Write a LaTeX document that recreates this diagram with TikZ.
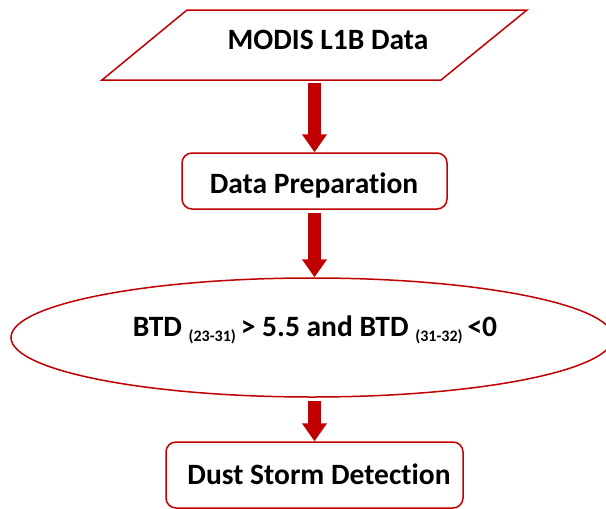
\documentclass[tikz,border=0pt]{standalone}
\usepackage{fontspec}
\setmainfont{Carlito}[Ligatures=NoCommon]
\usetikzlibrary{shapes.geometric,arrows.meta}
\definecolor{boxred}{HTML}{C00000}
\definecolor{arrowred}{HTML}{C00000}
\newcommand{\subtxt}[1]{{\fontsize{16}{18}\selectfont\raisebox{-5pt}{#1}}}
\begin{document}
\begin{tikzpicture}[x=1pt,y=-1pt,
  shapeline/.style={draw=boxred, line width=1.5pt},
  roundbox/.style={shapeline, rounded corners=10pt, inner sep=0pt},
  lbl/.style={font=\bfseries\fontsize{29.5}{34}\selectfont, inner sep=0pt, text=black},
  fatarrow/.style={draw=arrowred, line width=13.5pt, -{Triangle[length=18pt,width=24pt]}, shorten <=3pt}]
\useasboundingbox (0,0) rectangle (606,509);
% input parallelogram
\node[minimum width=254pt, minimum height=70pt, inner sep=0pt] (modis) at (314.5,45) {};
\draw[shapeline] (187,10) -- (527,10) -- (441,80) -- (102,80) -- cycle;
\node[lbl, anchor=base] (modist) at (328,49) {MODIS L1B Data};
% data preparation
\node[roundbox, minimum width=265pt, minimum height=56pt] (prep) at (314.5,181) {};
\node[lbl, anchor=base] (prept) at (314,193) {Data Preparation};
% condition ellipse
\node[shapeline, ellipse, minimum width=602pt, minimum height=119pt, inner sep=0pt] (cond) at (312,337.5) {};
\node[lbl, anchor=base] (condt) at (315,336.5) {BTD \subtxt{(23-31)}\,> 5.5 and BTD \subtxt{(31-32)}\,<0};
% output
\node[roundbox, minimum width=297pt, minimum height=66pt] (dust) at (314.5,475) {};
\node[lbl, anchor=base] (dustt) at (319,484) {Dust Storm Detection};
% arrows
\draw[fatarrow] (modis.south) -- (prep.north);
\draw[fatarrow] (prep.south) -- (prep.south |- cond.north);
\draw[fatarrow] (cond.south -| dust.north) -- (dust.north);
\end{tikzpicture}
\end{document}
